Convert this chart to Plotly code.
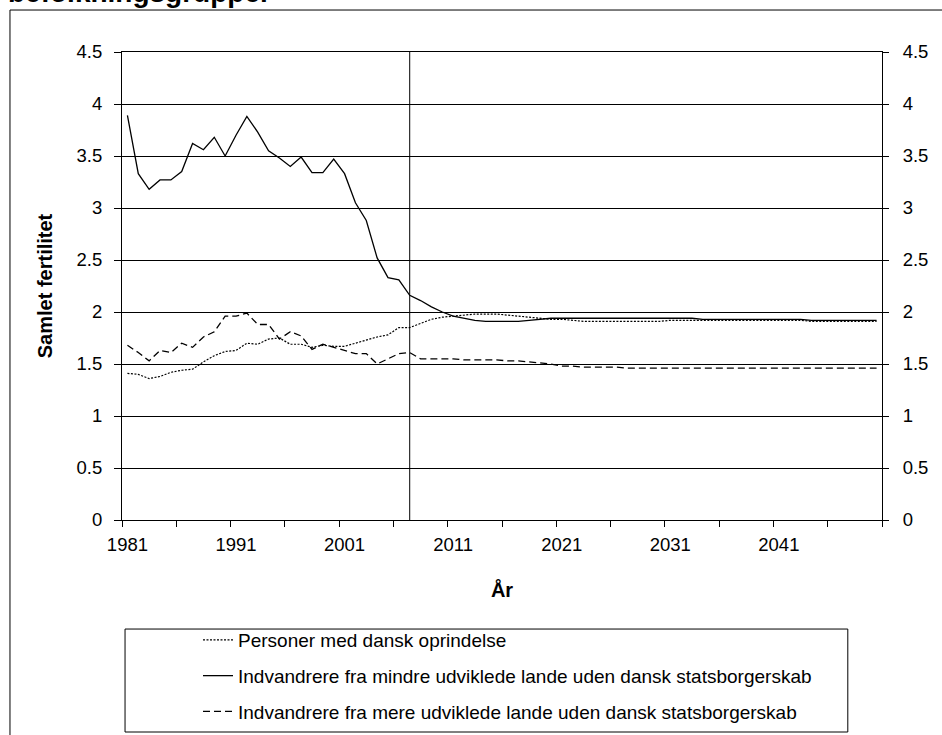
import plotly.graph_objects as go

# Samlet fertilitet 1981-2050 (observeret til 2007, derefter fremskrivning)
years = list(range(1981, 2051))
split_year = 2007
label_years = [1981, 1991, 2001, 2011, 2021, 2031, 2041]

dansk = [
    1.41, 1.40, 1.36, 1.38, 1.42, 1.44, 1.45, 1.52, 1.58, 1.62,
    1.63, 1.70, 1.69, 1.74, 1.75, 1.69, 1.69, 1.66, 1.68, 1.67,
    1.67, 1.70, 1.73, 1.76, 1.78, 1.85, 1.85, 1.89, 1.93, 1.95,
    1.96, 1.97, 1.98, 1.98, 1.98, 1.97, 1.96, 1.95, 1.94, 1.93,
    1.93, 1.92, 1.91, 1.91, 1.91, 1.91, 1.91, 1.91, 1.91, 1.91,
    1.92, 1.92, 1.92, 1.92, 1.92, 1.92, 1.92, 1.92, 1.92, 1.92,
    1.92, 1.92, 1.92, 1.91, 1.91, 1.91, 1.91, 1.91, 1.91, 1.91,
]
mindre_udv = [
    3.89, 3.33, 3.18, 3.27, 3.27, 3.35, 3.62, 3.56, 3.68, 3.50,
    3.70, 3.88, 3.73, 3.55, 3.48, 3.40, 3.49, 3.34, 3.34, 3.47,
    3.33, 3.05, 2.88, 2.52, 2.33, 2.31, 2.16, 2.11, 2.05, 2.00,
    1.96, 1.94, 1.92, 1.91, 1.91, 1.91, 1.91, 1.92, 1.93, 1.94,
    1.94, 1.94, 1.94, 1.94, 1.94, 1.94, 1.94, 1.94, 1.94, 1.94,
    1.94, 1.94, 1.94, 1.93, 1.93, 1.93, 1.93, 1.93, 1.93, 1.93,
    1.93, 1.93, 1.93, 1.92, 1.92, 1.92, 1.92, 1.92, 1.92, 1.92,
]
mere_udv = [
    1.68, 1.61, 1.53, 1.63, 1.61, 1.70, 1.66, 1.76, 1.81, 1.96,
    1.96, 1.99, 1.88, 1.88, 1.74, 1.81, 1.77, 1.64, 1.69, 1.66,
    1.63, 1.60, 1.60, 1.50, 1.55, 1.60, 1.61, 1.55, 1.55, 1.55,
    1.55, 1.54, 1.54, 1.54, 1.54, 1.53, 1.53, 1.52, 1.51, 1.50,
    1.48, 1.48, 1.47, 1.47, 1.47, 1.47, 1.46, 1.46, 1.46, 1.46,
    1.46, 1.46, 1.46, 1.46, 1.46, 1.46, 1.46, 1.46, 1.46, 1.46,
    1.46, 1.46, 1.46, 1.46, 1.46, 1.46, 1.46, 1.46, 1.46, 1.46,
]

series = [
    ("Personer med dansk oprindelse", dansk, "2px,1.5px", 1.2),
    ("Indvandrere fra mindre udviklede lande uden dansk statsborgerskab", mindre_udv, "solid", 1.3),
    ("Indvandrere fra mere udviklede lande uden dansk statsborgerskab", mere_udv, "7px,4px", 1.3),
]

FONT = "Liberation Sans, Arial, sans-serif"

fig = go.Figure()
for i, (name, vals, dash, width) in enumerate(series):
    fig.add_trace(
        go.Scatter(
            x=years,
            y=vals,
            mode="lines",
            name=name,
            legendgroup=f"g{i}",
            line=dict(color="black", width=width, dash=dash),
        )
    )

# dummy trace so the right-hand axis is rendered
fig.add_trace(
    go.Scatter(x=years[:1], y=[0], yaxis="y2", mode="markers",
               marker=dict(opacity=0), showlegend=False, hoverinfo="skip")
)

fig.add_vline(x=split_year, line=dict(color="black", width=1))

# chart-area border and legend box
fig.add_shape(type="rect", xref="paper", yref="paper",
              x0=-0.1474, x1=1.3, y0=-0.7, y1=1.0897,
              line=dict(color="black", width=1))
fig.add_shape(type="rect", xref="paper", yref="paper",
              x0=0.004, x1=0.955, y0=-0.453, y1=-0.233,
              line=dict(color="black", width=1))

# last line of the title, cut by the top edge as in the source
fig.add_annotation(
    text="<b>befolkningsgrupper</b>", xref="paper", yref="paper",
    x=-0.1526, y=1.0897, xanchor="left", yanchor="bottom", showarrow=False,
    font=dict(family=FONT, size=28, color="black"),
)

minor_ticks = [y - 0.5 for y in years[::5]] + [years[-1] + 0.5]

fig.update_layout(
    width=942,
    height=735,
    margin=dict(l=122, r=60, t=52, b=215, autoexpand=False),
    paper_bgcolor="white",
    plot_bgcolor="white",
    font=dict(family=FONT, size=18.5, color="black"),
    showlegend=True,
    legend=dict(
        x=0.1, y=-0.216, xanchor="left", yanchor="top",
        font=dict(family=FONT, size=19),
        tracegroupgap=8,
        bgcolor="rgba(0,0,0,0)",
    ),
    xaxis=dict(
        range=[years[0] - 0.5, years[-1] + 0.5],
        tickmode="array",
        tickvals=label_years,
        ticks="",
        showgrid=False,
        zeroline=False,
        showline=True,
        linecolor="black",
        linewidth=1,
        mirror=True,
        minor=dict(tickmode="array", tickvals=minor_ticks, ticks="outside",
                   ticklen=6, tickcolor="black", showgrid=False),
        title=dict(text="<b>År</b>", font=dict(size=20), standoff=28),
        ticklabelstandoff=8,
    ),
    yaxis=dict(
        range=[0, 4.5],
        dtick=0.5,
        showgrid=True,
        gridcolor="black",
        gridwidth=1,
        zeroline=False,
        showline=True,
        linecolor="black",
        ticks="outside",
        ticklen=7,
        tickcolor="black",
        ticklabelstandoff=8,
        title=dict(text="<b>Samlet fertilitet</b>", font=dict(size=20), standoff=18),
    ),
    yaxis2=dict(
        range=[0, 4.5],
        dtick=0.5,
        overlaying="y",
        side="right",
        showgrid=False,
        zeroline=False,
        showline=True,
        linecolor="black",
        ticks="outside",
        ticklen=6,
        tickcolor="black",
        ticklabelstandoff=10,
    ),
)

# drop the default page margin so the figure sits at the window's top-left corner
fig.write_html(
    "out.html",
    config={"displayModeBar": False},
    post_script="document.body.style.margin = '0';",
)
